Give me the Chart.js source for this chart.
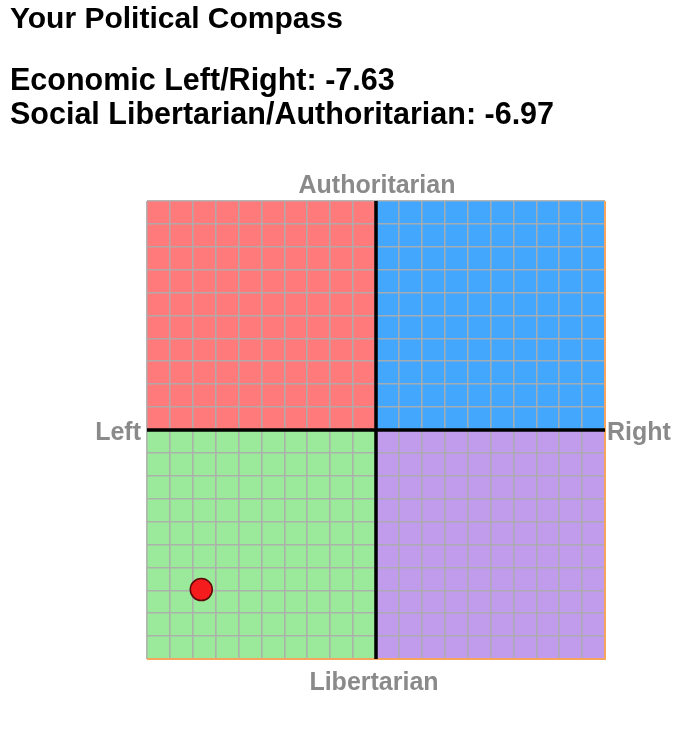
<!DOCTYPE html>
<html>
<head>
<meta charset="utf-8">
<script src="https://cdn.jsdelivr.net/npm/chart.js@4/dist/chart.umd.min.js"></script>
<style>
  html, body { margin: 0; padding: 0; background: #fff; }
  #wrap { position: relative; width: 690px; height: 749px; overflow: hidden; }
  canvas { position: absolute; left: 0; top: 0; }
  .h { position: absolute; left: 10px; margin: 0; font-family: "Liberation Sans", Arial, Helvetica, sans-serif; font-weight: bold; color: #000; white-space: nowrap; line-height: 1.15; }
</style>
</head>
<body>
<div id="wrap">
  <canvas id="c" width="690" height="749"></canvas>
  <div class="h" id="t1" style="top:1px;font-size:30px;"></div>
  <div class="h" id="t2" style="top:62px;font-size:30.5px;"></div>
  <div class="h" id="t3" style="top:96px;font-size:30.5px;"></div>
</div>
<script>
// ---- data ----
const titleText = "Your Political Compass";
const scoreLabels = ["Economic Left/Right", "Social Libertarian/Authoritarian"];
const scoreValues = [-7.63, -6.97];
const axisLabels = { top: "Authoritarian", bottom: "Libertarian", left: "Left", right: "Right" };
const axisRange = [-10, 10];
const quadrantColors = { topLeft: "#ff7a7a", topRight: "#43a8fd", bottomLeft: "#9be99a", bottomRight: "#c19ced" };

document.getElementById('t1').textContent = titleText;
document.getElementById('t2').textContent = scoreLabels[0] + ": " + scoreValues[0].toFixed(2);
document.getElementById('t3').textContent = scoreLabels[1] + ": " + scoreValues[1].toFixed(2);

const GRID = "rgba(172,172,172,0.9)";
const ORANGE = "#f6a55e";

const compassPlugin = {
  id: 'compass',
  beforeDraw(chart) {
    const { ctx, scales: { x, y } } = chart;
    const x0 = x.getPixelForValue(axisRange[0]), x1 = x.getPixelForValue(axisRange[1]), xc = x.getPixelForValue(0);
    const y0 = y.getPixelForValue(axisRange[1]), y1 = y.getPixelForValue(axisRange[0]), yc = y.getPixelForValue(0);
    ctx.save();
    ctx.fillStyle = quadrantColors.topLeft; ctx.fillRect(x0, y0, xc - x0, yc - y0);
    ctx.fillStyle = quadrantColors.topRight; ctx.fillRect(xc, y0, x1 - xc, yc - y0);
    ctx.fillStyle = quadrantColors.bottomLeft; ctx.fillRect(x0, yc, xc - x0, y1 - yc);
    ctx.fillStyle = quadrantColors.bottomRight; ctx.fillRect(xc, yc, x1 - xc, y1 - yc);
    // axis labels
    ctx.fillStyle = "#8a8a8a";
    ctx.font = "bold 25px 'Liberation Sans', Arial, Helvetica, sans-serif";
    ctx.textBaseline = "middle";
    ctx.textAlign = "center";
    ctx.fillText(axisLabels.top, xc + 1, y0 - 15);
    ctx.fillText(axisLabels.bottom, xc - 2, y1 + 24);
    ctx.textAlign = "right";
    ctx.fillText(axisLabels.left, x0 - 6, yc + 3);
    ctx.textAlign = "left";
    ctx.fillText(axisLabels.right, x1 + 2, yc + 3);
    ctx.restore();
  },
  beforeDatasetsDraw(chart) {
    const { ctx, scales: { x, y } } = chart;
    const x0 = x.getPixelForValue(axisRange[0]), x1 = x.getPixelForValue(axisRange[1]), xc = x.getPixelForValue(0);
    const y0 = y.getPixelForValue(axisRange[1]), y1 = y.getPixelForValue(axisRange[0]), yc = y.getPixelForValue(0);
    ctx.save();
    ctx.strokeStyle = ORANGE; ctx.lineWidth = 2;
    ctx.beginPath();
    ctx.moveTo(x1, y0); ctx.lineTo(x1, y1); ctx.lineTo(x0, y1);
    ctx.stroke();
    ctx.strokeStyle = "#000"; ctx.lineWidth = 3.5;
    ctx.beginPath();
    ctx.moveTo(xc, y0); ctx.lineTo(xc, y1);
    ctx.moveTo(x0, yc); ctx.lineTo(x1, yc);
    ctx.stroke();
    ctx.restore();
  }
};

const gridOpts = {
  color: GRID,
  lineWidth: 1.6,
  drawTicks: false,
  tickLength: 0
};

new Chart(document.getElementById('c'), {
  type: 'scatter',
  data: {
    datasets: [{
      data: [{ x: scoreValues[0], y: scoreValues[1] }],
      backgroundColor: "#f41c1c",
      borderColor: "#5a0a0a",
      borderWidth: 1.5,
      pointRadius: 11,
      pointHoverRadius: 11
    }]
  },
  options: {
    responsive: false,
    animation: false,
    events: [],
    layout: { padding: { left: 147, right: 85, top: 201, bottom: 90 } },
    plugins: { legend: { display: false }, tooltip: { enabled: false }, title: { display: false } },
    scales: {
      x: {
        type: 'linear', min: axisRange[0], max: axisRange[1],
        ticks: { display: false, stepSize: 1 },
        grid: gridOpts,
        border: { display: false }
      },
      y: {
        type: 'linear', min: axisRange[0], max: axisRange[1],
        ticks: { display: false, stepSize: 1 },
        grid: gridOpts,
        border: { display: false }
      }
    }
  },
  plugins: [compassPlugin]
});
</script>
</body>
</html>
